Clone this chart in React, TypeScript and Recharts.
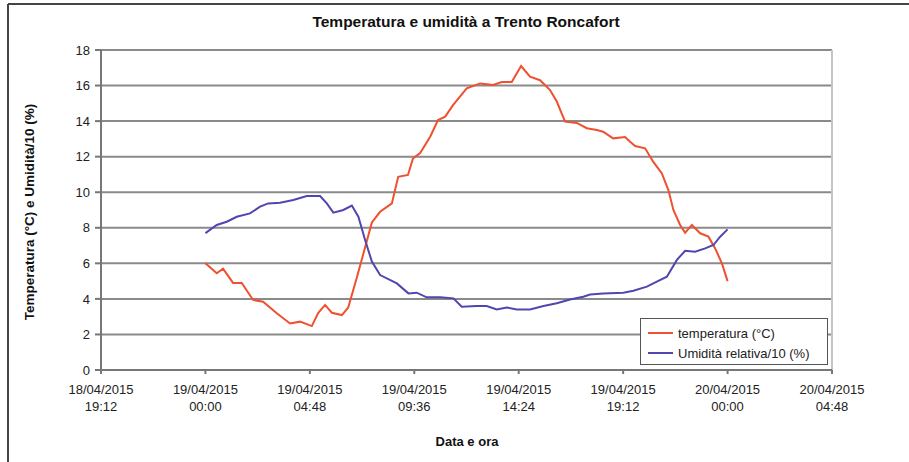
import React from "react"
import {
  LineChart,
  Line,
  XAxis,
  YAxis,
  CartesianGrid,
  ReferenceLine,
  Legend,
} from "recharts"

// hours since 18/04/2015 19:12
const xTicks = [0, 4.8, 9.6, 14.4, 19.2, 24, 28.8, 33.6]
const xTickDates = [
  "18/04/2015",
  "19/04/2015",
  "19/04/2015",
  "19/04/2015",
  "19/04/2015",
  "19/04/2015",
  "20/04/2015",
  "20/04/2015",
]
const xTickTimes = ["19:12", "00:00", "04:48", "09:36", "14:24", "19:12", "00:00", "04:48"]
const yTicks = [0, 2, 4, 6, 8, 10, 12, 14, 16, 18]

const seriesNames = ["temperatura (°C)", "Umidità relativa/10 (%)"]

const tempHours = [
  4.8, 5.32, 5.61, 6.07, 6.47, 6.99, 7.45, 8.08, 8.69, 9.15, 9.69, 9.98, 10.3,
  10.61, 11.07, 11.36, 11.76, 12.05, 12.45, 12.83, 13.37, 13.66, 14.11, 14.34,
  14.67, 15.13, 15.49, 15.82, 16.18, 16.81, 17.43, 18.02, 18.42, 18.88, 19.31,
  19.72, 20.18, 20.64, 20.95, 21.33, 21.87, 22.33, 22.79, 23.08, 23.54, 24.09,
  24.32, 24.55, 25.01, 25.38, 25.78, 26.08, 26.31, 26.62, 26.85, 27.16, 27.54,
  27.92, 28.23, 28.54, 28.8,
]
const tempValues = [
  6.0, 5.44, 5.7, 4.9, 4.9, 3.94, 3.84, 3.19, 2.62, 2.72, 2.47, 3.2, 3.66, 3.22,
  3.09, 3.5, 5.2, 6.5, 8.3, 8.9, 9.37, 10.87, 10.97, 11.9, 12.2, 13.12, 14.06,
  14.25, 14.9, 15.84, 16.12, 16.03, 16.2, 16.2, 17.1, 16.5, 16.3, 15.75, 15.1,
  13.97, 13.9, 13.6, 13.5, 13.4, 13.03, 13.1, 12.84, 12.6, 12.47, 11.72, 11.06,
  10.12, 9.0, 8.16, 7.72, 8.16, 7.69, 7.5, 6.84, 6.0, 5.0,
]

const humHours = [
  4.8, 5.32, 5.78, 6.24, 6.85, 7.31, 7.69, 8.23, 8.84, 9.46, 10.07, 10.38, 10.68,
  11.14, 11.53, 11.83, 12.14, 12.45, 12.83, 13.6, 14.13, 14.51, 14.97, 15.59,
  16.2, 16.58, 17.27, 17.73, 18.19, 18.65, 19.11, 19.72, 20.34, 20.95, 21.56,
  22.17, 22.48, 23.09, 24.01, 24.47, 25.09, 25.55, 26.01, 26.47, 26.85, 27.31,
  27.77, 28.15, 28.46, 28.8,
]
const humValues = [
  7.7, 8.16, 8.34, 8.62, 8.81, 9.19, 9.37, 9.41, 9.56, 9.79, 9.79, 9.37, 8.85,
  9.0, 9.25, 8.62, 7.31, 6.1, 5.34, 4.87, 4.31, 4.35, 4.09, 4.09, 4.03, 3.56,
  3.6, 3.6, 3.41, 3.52, 3.41, 3.41, 3.6, 3.75, 3.97, 4.12, 4.25, 4.3, 4.35, 4.46,
  4.69, 4.97, 5.25, 6.19, 6.71, 6.65, 6.84, 7.03, 7.5, 7.91,
]

const tempData = tempHours.map((t, i) => ({ t, v: tempValues[i] }))
const humData = humHours.map((t, i) => ({ t, v: humValues[i] }))

const RED = "#ef5030"
const BLUE = "#5046b0"
const FONT = '"Liberation Sans", Arial, sans-serif'

function XTick({ x, y, index }: any) {
  return (
    <text x={x} textAnchor="middle" fontSize={13} fill="#222" fontFamily={FONT}>
      <tspan x={x} y={y + 16}>{xTickDates[index]}</tspan>
      <tspan x={x} y={y + 33}>{xTickTimes[index]}</tspan>
    </text>
  )
}

function LegendBox({ payload }: any) {
  // keep the series order of the original legend
  const items = [...(payload || [])].sort(
    (a: any, b: any) => seriesNames.indexOf(a.value) - seriesNames.indexOf(b.value)
  )
  return (
    <div
      style={{
        width: 188,
        height: 47,
        border: "1.5px solid #555",
        background: "#fff",
        boxSizing: "border-box",
        padding: "4px 0 0 7px",
        fontFamily: FONT,
        fontSize: 13,
        color: "#222",
      }}
    >
      {items.map((p: any) => (
        <div key={p.value} style={{ display: "flex", alignItems: "center", height: 20 }}>
          <span
            style={{
              display: "inline-block",
              width: 25,
              height: 2,
              background: p.color,
              marginRight: 5,
            }}
          />
          {p.value}
        </div>
      ))}
    </div>
  )
}

export default function App() {
  return (
    <div
      style={{
        position: "absolute",
        left: 0,
        top: 0,
        width: 909,
        height: 462,
        background: "#fff",
        fontFamily: FONT,
      }}
    >
      <LineChart
        width={909}
        height={462}
        margin={{ top: 50, right: 77, bottom: 42, left: 41 }}
      >
        <CartesianGrid vertical={false} stroke="#8a8a8a" strokeWidth={2} />
        <XAxis
          type="number"
          dataKey="t"
          domain={[0, 33.6]}
          ticks={xTicks}
          height={50}
          tick={<XTick />}
          tickSize={4}
          tickMargin={4}
          stroke="#777"
          strokeWidth={2}
          allowDuplicatedCategory={false}
        />
        <YAxis
          type="number"
          domain={[0, 18]}
          ticks={yTicks}
          width={60}
          tickSize={6}
          tickMargin={5}
          stroke="#777"
          strokeWidth={2}
          tick={{ fontSize: 13, fill: "#222", fontFamily: FONT }}
        />
        <ReferenceLine x={33.6} stroke="#c4c4c4" strokeWidth={2} />
        <Line
          data={tempData}
          dataKey="v"
          name={seriesNames[0]}
          stroke={RED}
          strokeWidth={2}
          dot={false}
          type="linear"
          isAnimationActive={false}
        />
        <Line
          data={humData}
          dataKey="v"
          name={seriesNames[1]}
          stroke={BLUE}
          strokeWidth={2}
          dot={false}
          type="linear"
          isAnimationActive={false}
        />
        <Legend
          layout="vertical"
          align="center"
          verticalAlign="middle"
          content={<LegendBox />}
          wrapperStyle={{ position: "absolute", left: 640, top: 318, width: 188 }}
        />
      </LineChart>
      <svg
        width={909}
        height={462}
        style={{ position: "absolute", left: 0, top: 0, pointerEvents: "none" }}
      >
        <line x1={8} y1={4} x2={909} y2={4} stroke="#444" strokeWidth={2} />
        <line x1={8} y1={4} x2={8} y2={462} stroke="#444" strokeWidth={2} />
        <text
          x={466}
          y={27}
          textAnchor="middle"
          fontSize={15.5}
          fontWeight="bold"
          fill="#111"
          fontFamily={FONT}
        >
          Temperatura e umidità a Trento Roncafort
        </text>
        <text
          transform="translate(34,212) rotate(-90)"
          textAnchor="middle"
          fontSize={13.5}
          fontWeight="bold"
          fill="#111"
          fontFamily={FONT}
        >
          Temperatura (°C) e Umidità/10 (%)
        </text>
        <text
          x={467}
          y={446}
          textAnchor="middle"
          fontSize={13}
          fontWeight="bold"
          fill="#111"
          fontFamily={FONT}
        >
          Data e ora
        </text>
      </svg>
    </div>
  )
}
